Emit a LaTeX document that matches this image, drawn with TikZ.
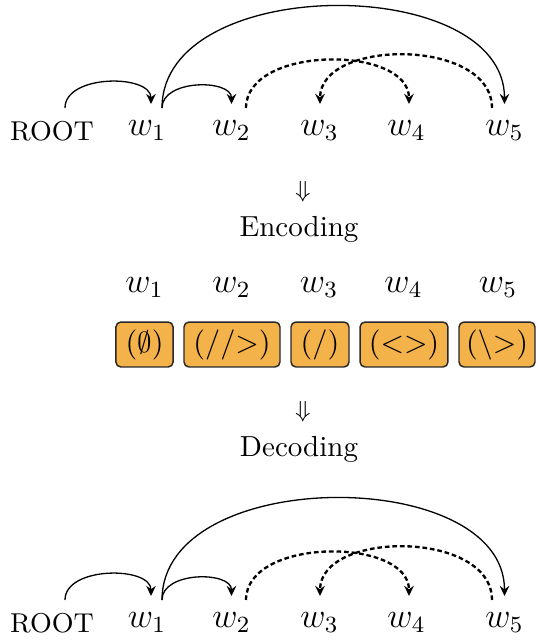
\documentclass[tikz,border=0pt]{standalone}
\usetikzlibrary{arrows.meta,calc}
\definecolor{boxfill}{RGB}{243,178,74}
\definecolor{boxdraw}{RGB}{40,40,40}
\tikzset{
  word/.style={anchor=base, inner sep=0pt, font=\fontsize{11.8}{13}\selectfont},
  rootw/.style={anchor=base, inner sep=0pt, font=\fontsize{9.4}{10}\selectfont},
  stage/.style={anchor=base, inner sep=0pt, font=\fontsize{10}{12}\selectfont},
  darrow/.style={inner sep=0pt, font=\fontsize{8.5}{9}\selectfont},
  dep/.style={-{Stealth[length=3.5pt,width=3.3pt,inset=1.2pt]}, line width=0.45pt},
  ddep/.style={dep, line width=0.8pt, dash pattern=on 1.6pt off 1pt},
  tagbox/.style={draw=boxdraw, fill=boxfill, rounded corners=1.7pt, line width=0.5pt,
    minimum height=15.5pt, inner sep=0pt, font=\fontsize{10.4}{12}\selectfont},
}
\begin{document}
\begin{tikzpicture}[x=0.3448pt, y=-0.3448pt]
\useasboundingbox (0,0) rectangle (537,643);

% ---- top tree ----
\node[rootw] (R) at (52,140) {ROOT};
\node[word] (a1) at (147,135) {$w_1$};
\node[word] (a2) at (231.5,135) {$w_2$};
\node[word] (a3) at (319.5,135) {$w_3$};
\node[word] (a4) at (406.5,135) {$w_4$};
\node[word] (a5) at (504.5,135) {$w_5$};

\draw[dep] ($(R.base)+(13,-32)$) .. controls +(0,-34) and +(0,-30) .. ($(a1.base)+(4,-31)$);
\draw[dep] ($(a1.base)+(15,-27)$) .. controls +(0,-29) and +(0,-25) .. ($(a2.base)+(0,-31)$);
\draw[dep] ($(a1.base)+(15,-27)$) .. controls +(0,-135) and +(0,-131) .. ($(a5.base)+(0,-31)$);
\draw[ddep] ($(a2.base)+(14.5,-27)$) .. controls +(0,-63) and +(0,-59) .. ($(a4.base)+(2.5,-31)$);
\draw[ddep] ($(a5.base)+(-12.5,-27)$) .. controls +(0,-70) and +(0,-66) .. ($(a3.base)+(0.5,-31)$);

% ---- encoding ----
\node[darrow] (e1) at (303,192) {$\Downarrow$};
\node[stage] (e2) at (299,236) {Encoding};

\node[word] (b1) at (144.5,292) {$w_1$};
\node[word] (b2) at (231.5,292) {$w_2$};
\node[word] (b3) at (319,292) {$w_3$};
\node[word] (b4) at (403.5,292) {$w_4$};
\node[word] (b5) at (498,292) {$w_5$};

\node[tagbox, minimum width=19.7pt] (t1) at (144.5,344.5) {($\emptyset$)};
\node[tagbox, minimum width=33.1pt] (t2) at (232,344.5) {(//>)};
\node[tagbox, minimum width=20pt]   (t3) at (320,344.5) {(/)};
\node[tagbox, minimum width=30.3pt] (t4) at (404,344.5) {(<>)};
\node[tagbox, minimum width=26.2pt] (t5) at (497,344.5) {(\textbackslash>)};

% ---- decoding ----
\node[darrow] (f1) at (303,412) {$\Downarrow$};
\node[stage] (f2) at (299,456) {Decoding};

% ---- bottom tree ----
\node[rootw] (R2) at (52,632) {ROOT};
\node[word] (d1) at (147,627) {$w_1$};
\node[word] (d2) at (231.5,627) {$w_2$};
\node[word] (d3) at (319.5,627) {$w_3$};
\node[word] (d4) at (406.5,627) {$w_4$};
\node[word] (d5) at (504.5,627) {$w_5$};

\draw[dep] ($(R2.base)+(13,-32)$) .. controls +(0,-34) and +(0,-30) .. ($(d1.base)+(4,-31)$);
\draw[dep] ($(d1.base)+(15,-27)$) .. controls +(0,-29) and +(0,-25) .. ($(d2.base)+(0,-31)$);
\draw[dep] ($(d1.base)+(15,-27)$) .. controls +(0,-135) and +(0,-131) .. ($(d5.base)+(0,-31)$);
\draw[ddep] ($(d2.base)+(14.5,-27)$) .. controls +(0,-63) and +(0,-59) .. ($(d4.base)+(2.5,-31)$);
\draw[ddep] ($(d5.base)+(-12.5,-27)$) .. controls +(0,-70) and +(0,-66) .. ($(d3.base)+(0.5,-31)$);
\end{tikzpicture}
\end{document}
